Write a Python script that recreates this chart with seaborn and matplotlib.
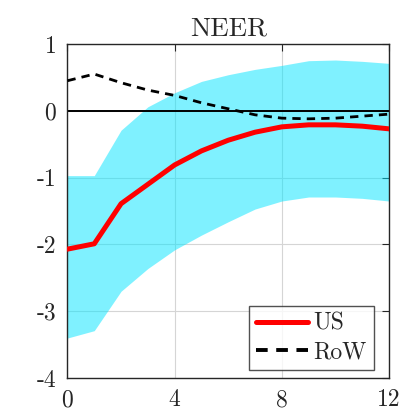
import numpy as np
import pandas as pd
import matplotlib
matplotlib.use("Agg")
import matplotlib.pyplot as plt
import seaborn as sns

# horizons and impulse responses
horizon = [0, 1, 2, 3, 4, 5, 6, 7, 8, 9, 10, 11, 12]
us = [-2.07, -1.99, -1.39, -1.10, -0.81, -0.60, -0.44, -0.32, -0.24, -0.21, -0.21, -0.23, -0.27]
row = [0.45, 0.55, 0.42, 0.31, 0.23, 0.12, 0.03, -0.06, -0.11, -0.12, -0.11, -0.08, -0.05]
band_hi = [-0.97, -0.97, -0.29, 0.06, 0.27, 0.44, 0.54, 0.62, 0.68, 0.75, 0.76, 0.74, 0.71]
band_lo = [-3.40, -3.29, -2.70, -2.36, -2.08, -1.86, -1.66, -1.47, -1.35, -1.29, -1.29, -1.31, -1.35]

df = pd.DataFrame({"h": horizon, "US": us, "RoW": row})

sns.set_style("white")
plt.rcParams["font.family"] = ["cmr10", "DejaVu Serif"]
plt.rcParams["axes.unicode_minus"] = False
plt.rcParams["mathtext.fontset"] = "cm"

fig = plt.figure(figsize=(4.04, 4.11), dpi=100)
ax = fig.add_axes([0.167, 0.080, 0.796, 0.813])

ax.fill_between(horizon, band_lo, band_hi, color="#00e5ff", alpha=0.5, linewidth=0, zorder=1)
ax.axhline(0, color="black", linewidth=1.4, zorder=2)
sns.lineplot(data=df, x="h", y="US", color="red", linewidth=3.6, label="US", ax=ax, zorder=4)
sns.lineplot(data=df, x="h", y="RoW", color="black", linewidth=2.0, linestyle=(0, (3, 2.2)),
             label="RoW", ax=ax, zorder=3)

ax.set_xlim(0, 12)
ax.set_ylim(-4, 1)
ax.set_xticks([0, 4, 8, 12])
ax.set_yticks([-4, -3, -2, -1, 0, 1])
ax.set_xlabel("")
ax.set_ylabel("")
ax.set_title("NEER", fontsize=19.5, pad=6)
ax.grid(True, color="#d5d5d5", linewidth=0.8)
ax.set_axisbelow(True)
ax.tick_params(direction="in", length=5, width=0.8, labelsize=17, top=True, right=True,
               color="#262626", pad=8)
for s in ax.spines.values():
    s.set_color("#262626")
    s.set_linewidth(1.0)

leg = ax.legend(loc="lower right", bbox_to_anchor=(0.952, 0.024), fontsize=17, frameon=True,
                fancybox=False, edgecolor="#262626", handlelength=2.2, handletextpad=0.2,
                borderpad=0.3, labelspacing=0.25, borderaxespad=0.0)
leg.get_frame().set_linewidth(1.0)
leg.get_lines()[1].set_linewidth(2.8)

fig.savefig("out.png", dpi=100)
